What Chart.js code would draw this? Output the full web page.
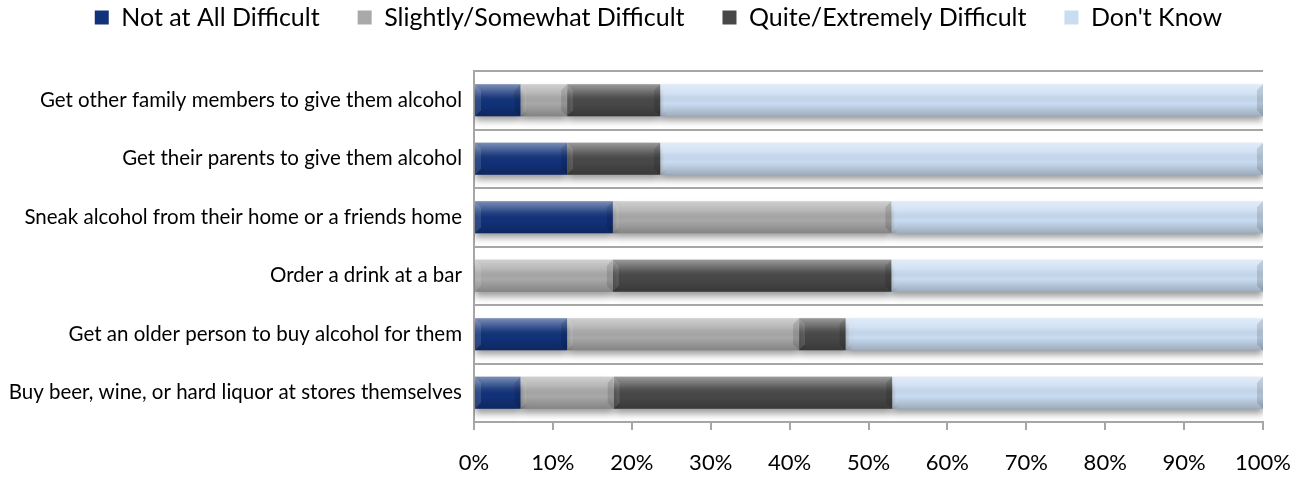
<!DOCTYPE html>
<html>
<head>
<meta charset="utf-8">
<script src="https://cdn.jsdelivr.net/npm/chart.js@4.4.1/dist/chart.umd.min.js"></script>
<style>
    html, body { margin: 0; padding: 0; background: #fff; }
    #wrap { width: 1304px; height: 478px; }
</style>
</head>
<body>
<div id="wrap"><canvas id="difficultyChart"></canvas></div>
<script>
    // categories, top to bottom
    const categories = [
        'Get other family members to give them alcohol',
        'Get their parents to give them alcohol',
        'Sneak alcohol from their home or a friends home',
        'Order a drink at a bar',
        'Get an older person to buy alcohol for them',
        'Buy beer, wine, or hard liquor at stores themselves'
    ];

    const seriesNames = ['Not at All Difficult', 'Slightly/Somewhat Difficult', 'Quite/Extremely Difficult', "Don't Know"];

    // percent of respondents
    const notAtAll = [5.9, 11.8, 17.6, 0, 11.8, 5.9];
    const slightly = [5.9, 0, 35.3, 17.6, 29.4, 11.8];
    const quite = [11.8, 11.8, 0, 35.3, 5.9, 35.3];
    const dontKnow = [76.4, 76.4, 47.1, 47.1, 52.9, 47.0];

    const xTicks = [0, 10, 20, 30, 40, 50, 60, 70, 80, 90, 100];

    const colors = ['#11327a', '#a9a9a9', '#484848', '#c9dcf2'];
    const gridColor = '#a6a6a6';

    Chart.defaults.font.family = 'Lato, "Open Sans", sans-serif';
    Chart.defaults.color = '#000';

    // drop shadow under the bars
    const shadowPlugin = {
        id: 'barShadow',
        beforeDatasetsDraw(chart) {
            const ctx = chart.ctx;
            ctx.save();
            ctx.shadowColor = 'rgba(0,0,0,0.4)';
            ctx.shadowBlur = 7;
            ctx.shadowOffsetY = 5;
        },
        afterDatasetsDraw(chart) {
            chart.ctx.restore();
        }
    };

    // bevel look on each bar segment
    const bevelPlugin = {
        id: 'bevel',
        afterDatasetsDraw(chart) {
            const ctx = chart.ctx;
            chart.data.datasets.forEach((ds, i) => {
                const meta = chart.getDatasetMeta(i);
                meta.data.forEach(bar => {
                    const left = Math.min(bar.base, bar.x);
                    const w = Math.abs(bar.x - bar.base);
                    if (w < 1) return;
                    const top = bar.y - bar.height / 2;
                    const h = bar.height;
                    const b = Math.min(6, w / 2);
                    const g = ctx.createLinearGradient(0, top, 0, top + h);
                    g.addColorStop(0, 'rgba(255,255,255,0.45)');
                    g.addColorStop(0.3, 'rgba(255,255,255,0.15)');
                    g.addColorStop(0.6, 'rgba(0,0,0,0)');
                    g.addColorStop(1, 'rgba(0,0,0,0.22)');
                    ctx.save();
                    ctx.fillStyle = g;
                    ctx.fillRect(left, top, w, h);
                    // left bevel
                    ctx.fillStyle = 'rgba(255,255,255,0.12)';
                    ctx.beginPath();
                    ctx.moveTo(left, top);
                    ctx.lineTo(left + b, top + b);
                    ctx.lineTo(left + b, top + h - b);
                    ctx.lineTo(left, top + h);
                    ctx.closePath();
                    ctx.fill();
                    // right bevel
                    ctx.fillStyle = 'rgba(0,0,0,0.12)';
                    ctx.beginPath();
                    ctx.moveTo(left + w, top);
                    ctx.lineTo(left + w - b, top + b);
                    ctx.lineTo(left + w - b, top + h - b);
                    ctx.lineTo(left + w, top + h);
                    ctx.closePath();
                    ctx.fill();
                    ctx.restore();
                });
            });
        }
    };

    // move the legend up and a bit right, like the original
    const legendShift = {
        id: 'legendShift',
        afterLayout(chart) {
            const lg = chart.legend;
            if (!lg) return;
            lg.top -= 33;
            lg.left += 27;
            lg.right += 27;
        }
    };

    const seriesData = [notAtAll, slightly, quite, dontKnow];

    new Chart(document.getElementById('difficultyChart'), {
        type: 'bar',
        data: {
            labels: categories,
            datasets: seriesNames.map((name, i) => ({
                label: name,
                data: seriesData[i],
                backgroundColor: colors[i],
                borderWidth: 0,
                categoryPercentage: 1,
                barPercentage: 0.55
            }))
        },
        options: {
            indexAxis: 'y',
            responsive: true,
            maintainAspectRatio: false,
            animation: false,
            events: [],
            layout: {padding: {left: 0, right: 41, top: 0, bottom: 0}},
            scales: {
                x: {
                    stacked: true,
                    min: 0,
                    max: 100,
                    afterBuildTicks: scale => {
                        scale.ticks = xTicks.map(v => ({value: v}));
                    },
                    afterFit: scale => {
                        scale.height = 56;
                        scale.paddingLeft = 0;
                        scale.paddingRight = 0;
                    },
                    ticks: {
                        callback: v => v + '%',
                        font: {size: 22},
                        padding: 20,
                        maxRotation: 0
                    },
                    grid: {
                        drawOnChartArea: false,
                        drawTicks: true,
                        tickLength: 8,
                        color: gridColor,
                        lineWidth: 2
                    },
                    border: {display: true, color: gridColor, width: 2}
                },
                y: {
                    stacked: true,
                    afterFit: scale => { scale.width = 474; },
                    ticks: {font: {size: 20.5}, padding: 12},
                    grid: {
                        offset: true,
                        drawTicks: false,
                        color: gridColor,
                        lineWidth: 2
                    },
                    border: {display: true, color: gridColor, width: 2}
                }
            },
            plugins: {
                legend: {
                    position: 'top',
                    maxHeight: 71,
                    labels: {
                        boxWidth: 14,
                        boxHeight: 14,
                        padding: 38,
                        font: {size: 25}
                    }
                },
                tooltip: {enabled: false}
            }
        },
        plugins: [shadowPlugin, bevelPlugin, legendShift]
    });
</script>
</body>
</html>
